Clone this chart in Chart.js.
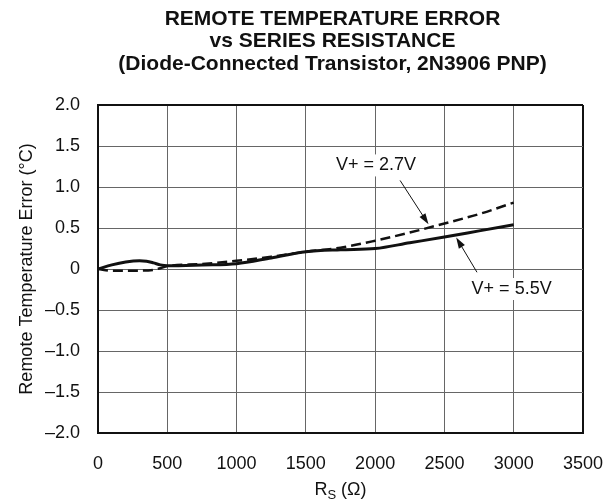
<!DOCTYPE html>
<html>
<head>
<meta charset="utf-8">
<script src="https://cdn.jsdelivr.net/npm/chart.js@4"></script>
<style>
  body { margin: 0; background: #fff; }
  #wrap { width: 613px; height: 504px; }
</style>
</head>
<body>
<div id="wrap"><canvas id="myChart" width="613" height="504"></canvas></div>
<script>
const titleLines = [
  "REMOTE TEMPERATURE ERROR",
  "vs SERIES RESISTANCE",
  "(Diode-Connected Transistor, 2N3906 PNP)",
];

// V+ = 5.5V (solid)
const rs55 = [0, 100, 200, 300, 350, 400, 450, 500, 750, 1000, 1250, 1500, 1750, 2000, 2250, 2500, 2750, 3000];
const err55 = [0, 0.05, 0.085, 0.1, 0.095, 0.075, 0.05, 0.04, 0.05, 0.065, 0.135, 0.21, 0.235, 0.25, 0.32, 0.39, 0.465, 0.54];

// V+ = 2.7V (dashed)
const rs27 = [0, 100, 200, 300, 400, 450, 500, 750, 1000, 1250, 1500, 1750, 2000, 2250, 2500, 2750, 3000];
const err27 = [0, -0.02, -0.02, -0.02, -0.01, 0.01, 0.035, 0.06, 0.1, 0.15, 0.21, 0.26, 0.345, 0.445, 0.555, 0.67, 0.81];

const xTicks = [0, 500, 1000, 1500, 2000, 2500, 3000, 3500];
const yTicks = [-2, -1.5, -1, -0.5, 0, 0.5, 1, 1.5, 2];

// callouts: label centre, arrow start, arrow tip (data units)
const notes = [
  { text: "V+ = 2.7V", at: [2006, 1.263], from: [2180, 1.08], to: [2385, 0.545] },
  { text: "V+ = 5.5V", at: [2985, -0.244], from: [2735, -0.04], to: [2585, 0.385] },
];

const FONT = "'Liberation Sans', Arial, Helvetica, sans-serif";

const pts = (xs, ys) => xs.map((x, i) => ({ x: x, y: ys[i] }));

const decor = {
  id: "decor",
  afterDatasetsDraw(chart) {
    const c = chart.ctx;
    const xs = chart.scales.x, ys = chart.scales.y;
    c.save();
    c.font = "18px " + FONT;
    c.textAlign = "center";
    c.textBaseline = "middle";
    notes.forEach((n) => {
      const cx = xs.getPixelForValue(n.at[0]), cy = ys.getPixelForValue(n.at[1]);
      const w = c.measureText(n.text).width;
      c.fillStyle = "#fff";
      c.fillRect(cx - w / 2 - 4, cy - 11, w + 8, 22);
      c.fillStyle = "#111";
      c.fillText(n.text, cx, cy);
      const x1 = xs.getPixelForValue(n.from[0]), y1 = ys.getPixelForValue(n.from[1]);
      const x2 = xs.getPixelForValue(n.to[0]), y2 = ys.getPixelForValue(n.to[1]);
      const a = Math.atan2(y2 - y1, x2 - x1);
      c.strokeStyle = "#111";
      c.lineWidth = 1;
      c.beginPath();
      c.moveTo(x1, y1);
      c.lineTo(x2 - 8 * Math.cos(a), y2 - 8 * Math.sin(a));
      c.stroke();
      c.beginPath();
      c.moveTo(x2, y2);
      c.lineTo(x2 - 11 * Math.cos(a) + 3.5 * Math.sin(a), y2 - 11 * Math.sin(a) - 3.5 * Math.cos(a));
      c.lineTo(x2 - 11 * Math.cos(a) - 3.5 * Math.sin(a), y2 - 11 * Math.sin(a) + 3.5 * Math.cos(a));
      c.closePath();
      c.fill();
    });

    // title
    const mid = (chart.chartArea.left + chart.chartArea.right) / 2 - 8;
    c.font = "bold 21px " + FONT;
    c.fillStyle = "#111";
    titleLines.forEach((t, i) => c.fillText(t, mid, 19 + i * 22.5));

    // x axis title R_S (Ω)
    const ty = 490;
    c.font = "18px " + FONT;
    c.textAlign = "left";
    const wR = c.measureText("R").width;
    c.font = "13px " + FONT;
    const wS = c.measureText("S").width;
    c.font = "18px " + FONT;
    const wRest = c.measureText(" (\u03A9)").width;
    let x0 = (chart.chartArea.left + chart.chartArea.right) / 2 - (wR + wS + wRest) / 2;
    c.fillText("R", x0, ty);
    c.font = "13px " + FONT;
    c.fillText("S", x0 + wR, ty + 5);
    c.font = "18px " + FONT;
    c.fillText(" (\u03A9)", x0 + wR + wS, ty);
    c.restore();
  },
};

const chart = new Chart(document.getElementById("myChart").getContext("2d"), {
  type: "line",
  data: {
    datasets: [
      {
        label: "V+ = 5.5V",
        data: pts(rs55, err55),
        borderColor: "#111",
        borderWidth: 3,
        pointRadius: 0,
        cubicInterpolationMode: "monotone",
      },
      {
        label: "V+ = 2.7V",
        data: pts(rs27, err27),
        borderColor: "#111",
        borderWidth: 2.5,
        borderDash: [10, 5],
        pointRadius: 0,
        cubicInterpolationMode: "monotone",
      },
    ],
  },
  options: {
    responsive: false,
    animation: false,
    layout: { padding: { top: 105, right: 30, left: 0, bottom: 0 } },
    plugins: {
      legend: { display: false },
      title: { display: false },
      tooltip: { enabled: false },
    },
    scales: {
      x: {
        type: "linear",
        min: 0,
        max: 3500,
        afterBuildTicks: (s) => { s.ticks = xTicks.map((v) => ({ value: v })); },
        afterFit: (s) => { s.height = 71; s.paddingLeft = 0; s.paddingRight = 0; },
        ticks: {
          color: "#111",
          padding: 20,
          maxRotation: 0,
          font: { family: FONT, size: 18 },
          callback: (v) => String(v),
        },
        grid: {
          drawTicks: false,
          color: (ctx) => (ctx.tick && ctx.tick.value === 3500 ? "#111" : "#666"),
          lineWidth: (ctx) => (ctx.tick && ctx.tick.value === 3500 ? 2 : 1),
        },
        border: { color: "#111", width: 2 },
        title: { display: false },
      },
      y: {
        min: -2,
        max: 2,
        afterBuildTicks: (s) => { s.ticks = yTicks.map((v) => ({ value: v })); },
        afterFit: (s) => { s.width = 98; s.paddingTop = 0; s.paddingBottom = 0; },
        ticks: {
          color: "#111",
          padding: 18,
          font: { family: FONT, size: 18 },
          callback: (v) => (v === 0 ? "0" : (v < 0 ? "\u2013" : "") + Math.abs(v).toFixed(1)),
        },
        grid: {
          drawTicks: false,
          color: (ctx) => (ctx.tick && ctx.tick.value === 2 ? "#111" : "#666"),
          lineWidth: (ctx) => (ctx.tick && ctx.tick.value === 2 ? 2 : 1),
        },
        border: { color: "#111", width: 2 },
        title: {
          display: true,
          text: "Remote Temperature Error (\u00B0C)",
          color: "#111",
          font: { family: FONT, size: 18 },
          padding: { top: 16, bottom: 0 },
        },
      },
    },
  },
  plugins: [decor],
});
</script>
</body>
</html>
